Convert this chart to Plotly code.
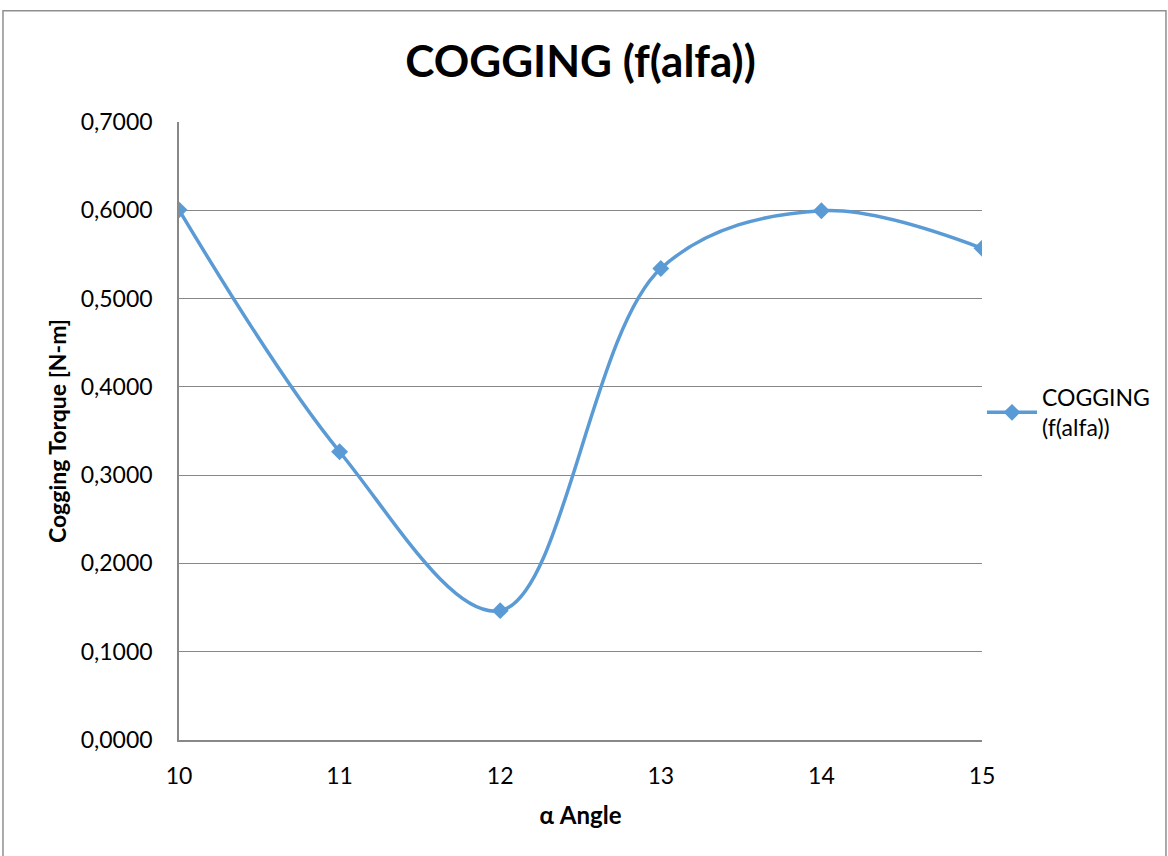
import plotly.graph_objects as go

# Cogging torque versus alpha angle
alpha_angle = [10, 11, 12, 13, 14, 15]
cogging_torque = [0.6005, 0.3265, 0.1465, 0.5340, 0.5995, 0.5570]
series_name = "COGGING<br>(f(alfa))"

BLUE = "#5B9BD5"
GRID = "#888888"
FONT = "Lato, Calibri, Carlito, sans-serif"

fig = go.Figure()
fig.add_trace(go.Scatter(
    x=alpha_angle,
    y=cogging_torque,
    mode="lines+markers",
    name=series_name,
    line=dict(color=BLUE, width=3.5, shape="spline", smoothing=1.0),
    marker=dict(symbol="diamond", size=13, color=BLUE),
))

# Outer chart frame
fig.add_shape(type="rect", xref="paper", yref="paper",
              x0=-0.2192, x1=1.2291, y0=-0.25, y1=1.18,
              line=dict(color="#8F8F8F", width=1.5), fillcolor="rgba(0,0,0,0)",
              layer="below")

fig.update_layout(
    width=1168, height=856,
    margin=dict(l=179, r=186, t=122, b=116),
    paper_bgcolor="white", plot_bgcolor="white",
    separators=", ",
    font=dict(family=FONT, color="#000000", size=23),
    title=dict(text="<b>COGGING (f(alfa))</b>", x=0.5, xref="paper", xanchor="center",
               y=1 - 62 / 856, yref="container", yanchor="middle",
               font=dict(family=FONT, size=44, color="#000000")),
    showlegend=True,
    legend=dict(x=1.0, xanchor="left", y=0.53, yanchor="middle",
                font=dict(family=FONT, size=23, color="#000000"),
                bgcolor="rgba(0,0,0,0)", itemwidth=50, tracegroupgap=0),
    xaxis=dict(
        range=[10, 15], tickvals=alpha_angle, ticktext=[str(a) for a in alpha_angle],
        showgrid=False, zeroline=False,
        showline=True, linecolor=GRID, linewidth=1.5,
        ticks="", ticklabelstandoff=15,
        tickfont=dict(family=FONT, size=23),
        title=dict(text="<b>α Angle</b>", standoff=19,
                   font=dict(family=FONT, size=24)),
    ),
    yaxis=dict(
        range=[0, 0.7], dtick=0.1, tickformat=".4f",
        showgrid=True, gridcolor=GRID, gridwidth=1,
        zeroline=False, showline=True, linecolor=GRID, linewidth=1.5,
        ticks="", ticklabelstandoff=20,
        tickfont=dict(family=FONT, size=23),
        title=dict(text="<b>Cogging Torque [N-m]</b>", standoff=8,
                   font=dict(family=FONT, size=23)),
    ),
)

fig.write_html("out.html")
